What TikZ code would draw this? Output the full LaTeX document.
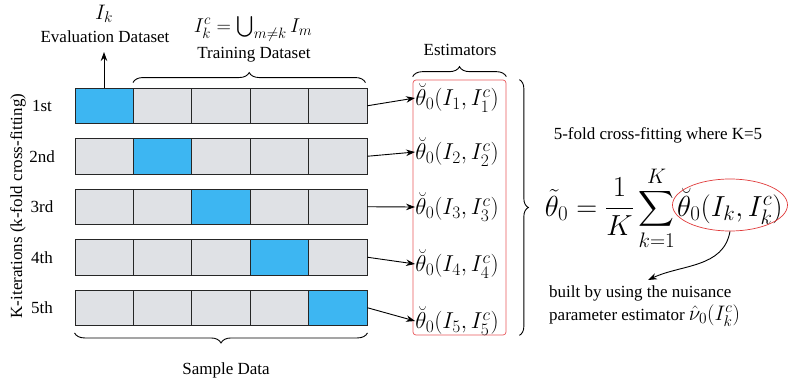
\RequirePackage{fix-cm}
\documentclass[tikz,border=0pt]{standalone}
\usepackage{exscale}
\usepackage{fontspec}
\setmainfont{Liberation Serif}
\DeclareMathSizes{20}{20}{15}{11}
\DeclareMathSizes{21}{21}{15.5}{11}
\DeclareMathSizes{23}{23}{17.5}{12}
\DeclareMathSizes{29}{29}{21}{15}
\usetikzlibrary{arrows.meta,decorations.pathreplacing,shapes.geometric,calc}
\definecolor{cellblue}{HTML}{3DB6F2}
\definecolor{cellgray}{HTML}{DFE1E5}
\definecolor{boxred}{HTML}{E8585C}
\definecolor{ellred}{HTML}{E03A3A}
\begin{document}
\begin{tikzpicture}[x=1pt,y=-1pt,
  font=\fontsize{17}{20}\selectfont,
  cell/.style={draw=black!85,line width=0.9pt,minimum width=58.4pt,minimum height=35.5pt,inner sep=0pt},
  arr/.style={-{Stealth[length=9pt,width=6.5pt]},line width=0.9pt},
  brc/.style={decorate,decoration={brace,amplitude=10pt},line width=0.9pt},
  est/.style={inner sep=0pt,font=\fontsize{23}{24}\selectfont}]
\useasboundingbox (0,0) rectangle (788,383);
% cells
\foreach \r in {1,...,5}{
  \foreach \c in {1,...,5}{
    \ifnum\c=\r \def\fc{cellblue}\else\def\fc{cellgray}\fi
    \node[cell,fill=\fc] (c\r\c) at ({75+58.4*(\c-0.5)},{88+50.5*(\r-1)+17.75}) {};
  }
}
% ordinals
\node (o1) at (42,105.75) {1st};
\node (o2) at (42,156.25) {2nd};
\node (o3) at (42,206.75) {3rd};
\node (o4) at (42,257.25) {4th};
\node (o5) at (42,307.75) {5th};
\node[rotate=90] (klab) at (18,206) {K-iterations (k-fold cross-fitting)};
% evaluation
\coordinate (evtop) at (104,52);
\draw[arr] (c11.north -| evtop) -- (evtop);
\node (evtxt) at (105,37) {Evaluation Dataset};
\node[font=\fontsize{21}{22}\selectfont] (ik) at (104,14) {$I_k$};
% training
\draw[brc] (c12.north west)++(0,-5) coordinate (tb1) -- ($(c15.north east)+(-2,-5)$) coordinate (tb2);
\node (trtxt) at (254,55) {Training Dataset};
\node[font=\fontsize{20}{22}\selectfont,inner sep=0pt] (trform) at (253,29) {$I_k^c=\bigcup_{m\neq k} I_m$};
% sample data
\draw[brc] ($(c55.south east)+(0,7)$) -- ($(c51.south west)+(0,7)$);
\node (sdtxt) at (226,370) {Sample Data};
% estimators
\node[draw=boxred,line width=0.7pt,rounded corners=3pt,minimum width=93pt,minimum height=255pt] (estbox) at (459.5,207.5) {};
\node[est] (e1) at (457,98) {$\breve\theta_0(I_1,I_1^c)$};
\node[est] (e2) at (457,152) {$\breve\theta_0(I_2,I_2^c)$};
\node[est] (e3) at (457,207) {$\breve\theta_0(I_3,I_3^c)$};
\node[est] (e4) at (457,264) {$\breve\theta_0(I_4,I_4^c)$};
\node[est] (e5) at (457,321) {$\breve\theta_0(I_5,I_5^c)$};
\foreach \i in {1,...,5}{\draw[arr] (c\i5.east) -- (e\i.west);}
\draw[brc] ($(estbox.north west)+(0,-3)$) -- ($(estbox.north east)+(0,-3)$);
\node (esttxt) at (460,50) {Estimators};
% big brace
\draw[brc,decoration={brace,amplitude=9pt}] ($(estbox.north east)+(13,0)$) -- ($(estbox.south east)+(13,0)$);
% right side
\node (fold) at (658,135) {5-fold cross-fitting where K=5};
\node[font=\fontsize{29}{30}\selectfont,inner sep=0pt,anchor=base west] (bt) at (677,216) {$\breve\theta_0(I_k,I_k^c)$};
\node[font=\fontsize{29}{30}\selectfont,inner sep=0pt,anchor=base east] (lhs) at ($(bt.base west)+(-2,0)$) {$\displaystyle\tilde\theta_0=\frac{1}{K}\sum_{k=1}^{K}$};
\node[draw=ellred,line width=0.7pt,ellipse,minimum width=115pt,minimum height=52pt,inner sep=0pt] (ell) at (730,205) {};
\coordinate (tip) at (648,280);
\draw[arr] (ell.south) to[out=-100,in=25] (tip);
\node[anchor=west,align=left,inner sep=0pt] (built) at (549,306) {built by using the nuisance\\[3pt]parameter estimator {\fontsize{21}{20}\selectfont$\hat\nu_0(I_k^c)$}};
\end{tikzpicture}
\end{document}
